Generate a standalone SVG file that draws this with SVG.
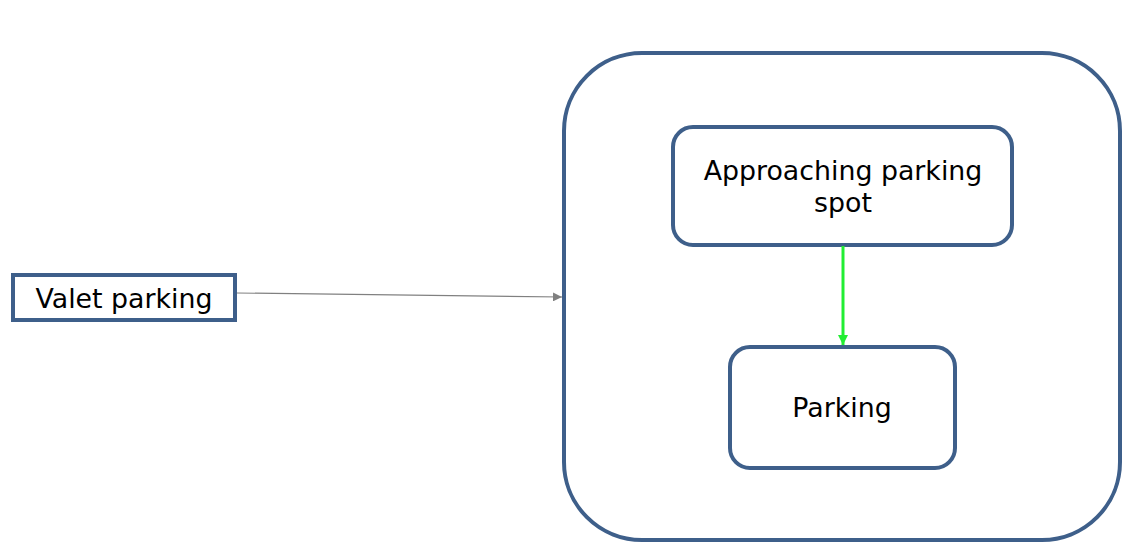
<svg xmlns="http://www.w3.org/2000/svg" width="1132" height="553" viewBox="0 0 1132 553">
<defs>
<style>
.box{fill:#fff;stroke:#3e5f8a;stroke-width:4}
.lbl{font-family:"DejaVu Sans",sans-serif;font-size:26.8px;fill:#000;text-anchor:middle}
</style>
<marker id="ag" viewBox="0 0 10 10" refX="10" refY="5" markerWidth="9" markerHeight="9" markerUnits="userSpaceOnUse" orient="auto"><path d="M0,0 L10,5 L0,10 z" fill="#808080"/></marker>
<marker id="agr" viewBox="0 0 10 10" refX="10" refY="5" markerWidth="10" markerHeight="10" markerUnits="userSpaceOnUse" orient="auto"><path d="M0,0 L10,5 L0,10 z" fill="#22ee33"/></marker>
</defs>
<rect width="1132" height="553" fill="#fff"/>
<g id="container">
<rect class="box" x="564" y="53" width="556" height="487" rx="78" ry="78"/>
</g>
<g id="valet">
<rect class="box" x="13" y="275" width="222" height="45"/>
<text class="lbl" x="124" y="308">Valet parking</text>
</g>
<g id="approaching">
<rect class="box" x="673" y="127" width="339" height="118" rx="20" ry="20"/>
<text class="lbl" x="843" y="180">Approaching parking</text>
<text class="lbl" x="843" y="212">spot</text>
</g>
<g id="parking">
<rect class="box" x="730" y="347" width="225" height="121" rx="20" ry="20"/>
<text class="lbl" x="842" y="417">Parking</text>
</g>
<g id="connectors">
<line x1="237" y1="293" x2="562" y2="297" stroke="#808080" stroke-width="1.2" marker-end="url(#ag)"/>
<line x1="843" y1="246" x2="843" y2="345" stroke="#22ee33" stroke-width="3" marker-end="url(#agr)"/>
</g>
</svg>
